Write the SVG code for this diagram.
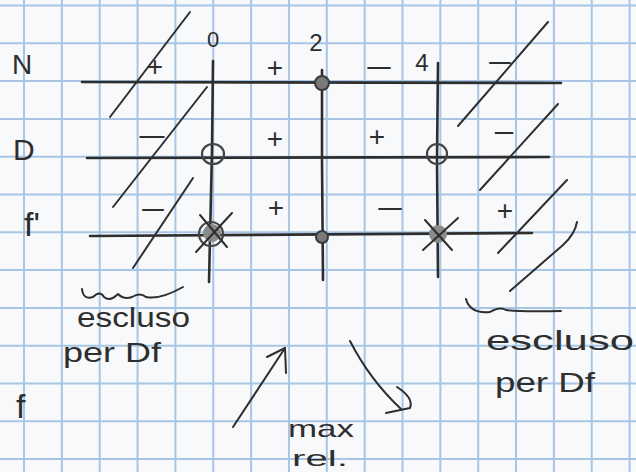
<svg xmlns="http://www.w3.org/2000/svg" width="636" height="472" viewBox="0 0 636 472">
<defs>
<style>
.grid{stroke:#a7c6e6;stroke-width:2;fill:none}
.pen{stroke:#2e2e2e;stroke-width:2.6;fill:none;stroke-linecap:round;stroke-linejoin:round}
.thin{stroke:#2e2e2e;stroke-width:2;fill:none;stroke-linecap:round;stroke-linejoin:round}
.t{font-family:"Liberation Sans","DejaVu Sans",sans-serif;fill:#2e2e2e}
.sign{font-family:"Liberation Sans","DejaVu Sans",sans-serif;fill:#2e2e2e;font-size:28px;text-anchor:middle}
.dot{fill:#7a7a7a;stroke:#3a3a3a;stroke-width:2}
.ring{fill:none;stroke:#444;stroke-width:2.2}
</style>
</defs>
<rect width="636" height="472" fill="#f8f9fb"/>
<g id="grid" class="grid">
<path d="M24,0V472M61.85,0V472M99.7,0V472M137.55,0V472M175.4,0V472M213.25,0V472M251.1,0V472M288.95,0V472M326.8,0V472M364.65,0V472M402.5,0V472M440.35,0V472M478.2,0V472M516.05,0V472M553.9,0V472M591.75,0V472M629.6,0V472"/>
<path d="M0,5.5H636M0,43.3H636M0,81.1H636M0,118.9H636M0,156.7H636M0,194.5H636M0,232.3H636M0,270.1H636M0,307.9H636M0,345.7H636M0,383.5H636M0,421.3H636M0,459.1H636"/>
</g>
<g id="connectors">
<path class="pen" d="M82,82 L561,83"/>
<path class="pen" d="M87,158 L549,157"/>
<path class="pen" d="M90,236 L532,233"/>
<path class="pen" d="M213,61 L212,150 L209,282"/>
<path class="pen" d="M322,70 L322,160 L323,280"/>
<path class="pen" d="M438,63 L437,160 L438,277"/>
<g id="hatch-left" class="thin">
<path d="M190,12 L110,117"/>
<path d="M207,87 L113,207"/>
<path d="M193,178 L133,268"/>
</g>
<g id="hatch-right" class="thin">
<path d="M548,22 L458,126"/>
<path d="M558,104 L480,190"/>
<path d="M567,180 L498,253"/>
<path d="M577,222 Q575,234 563,245 L510,291"/>
</g>
<g id="arrow-up" class="thin">
<path d="M233,427 L285,348"/>
<path d="M267,357 L285,348 L286,373"/>
</g>
<g id="arrow-down" class="thin">
<path d="M350,341 Q370,380 401,409"/>
<path d="M397,387 Q414,398 410,408 L386,413"/>
</g>
</g>
<g id="header">
<text class="t" x="213" y="47" font-size="22" text-anchor="middle">0</text>
<text class="t" x="316" y="51" font-size="24" text-anchor="middle">2</text>
<text class="t" x="422" y="71" font-size="24" text-anchor="middle">4</text>
</g>
<g id="row-N">
<text class="t" x="12" y="74" font-size="28">N</text>
<text class="sign" x="155" y="76">+</text>
<text class="sign" x="275" y="77">+</text>
<text class="sign" x="379" y="77" textLength="28" lengthAdjust="spacingAndGlyphs">−</text>
<text class="sign" x="500" y="72" textLength="26" lengthAdjust="spacingAndGlyphs">−</text>
<circle class="dot" cx="322" cy="83" r="7"/>
</g>
<g id="row-D">
<text class="t" x="13" y="160" font-size="30">D</text>
<text class="sign" x="152" y="146" textLength="30" lengthAdjust="spacingAndGlyphs">−</text>
<text class="sign" x="275" y="148">+</text>
<text class="sign" x="377" y="146">+</text>
<text class="sign" x="504" y="142" textLength="22" lengthAdjust="spacingAndGlyphs">−</text>
<ellipse class="ring" cx="213" cy="154" rx="11" ry="10"/>
<ellipse class="ring" cx="437" cy="154" rx="10" ry="10"/>
</g>
<g id="row-fprime">
<text class="t" x="24" y="236" font-size="34">f'</text>
<text class="sign" x="153" y="219" textLength="26" lengthAdjust="spacingAndGlyphs">−</text>
<text class="sign" x="276" y="217">+</text>
<text class="sign" x="390" y="218" textLength="28" lengthAdjust="spacingAndGlyphs">−</text>
<text class="sign" x="505" y="220">+</text>
<circle class="dot" cx="322" cy="237" r="6"/>
<g id="cross-0">
<circle cx="212" cy="233" r="9" fill="#8a8a8a"/>
<circle class="ring" cx="211" cy="234" r="12"/>
<path class="thin" d="M196,252 L232,213 M200,215 L227,247"/>
</g>
<g id="cross-4">
<circle cx="438" cy="234" r="9" fill="#8a8a8a"/>
<path class="thin" d="M423,250 L458,218 M425,220 L452,250"/>
</g>
</g>
<g id="row-f">
<text class="t" x="16" y="418" font-size="34">f</text>
</g>
<g id="note-left">
<path class="thin" d="M82,289 Q83,300 93,297 Q100,290 104,297 Q110,302 118,294 Q124,300 132,297 Q140,292 146,297 Q160,300 183,287"/>
<text class="t" x="77" y="327" font-size="28" textLength="113" lengthAdjust="spacingAndGlyphs">escluso</text>
<text class="t" x="63" y="362" font-size="28" textLength="98" lengthAdjust="spacingAndGlyphs">per Df</text>
</g>
<g id="note-right">
<path class="thin" d="M466,299 Q470,314 490,312 Q500,306 506,310 Q520,312 561,311"/>
<text class="t" x="486" y="350" font-size="28" textLength="148" lengthAdjust="spacingAndGlyphs">escluso</text>
<text class="t" x="495" y="392" font-size="28" textLength="100" lengthAdjust="spacingAndGlyphs">per Df</text>
</g>
<g id="note-max">
<text class="t" x="288" y="437" font-size="24" textLength="66" lengthAdjust="spacingAndGlyphs">max</text>
<text class="t" x="292" y="466" font-size="22" textLength="56" lengthAdjust="spacingAndGlyphs">rel.</text>
</g>
</svg>
